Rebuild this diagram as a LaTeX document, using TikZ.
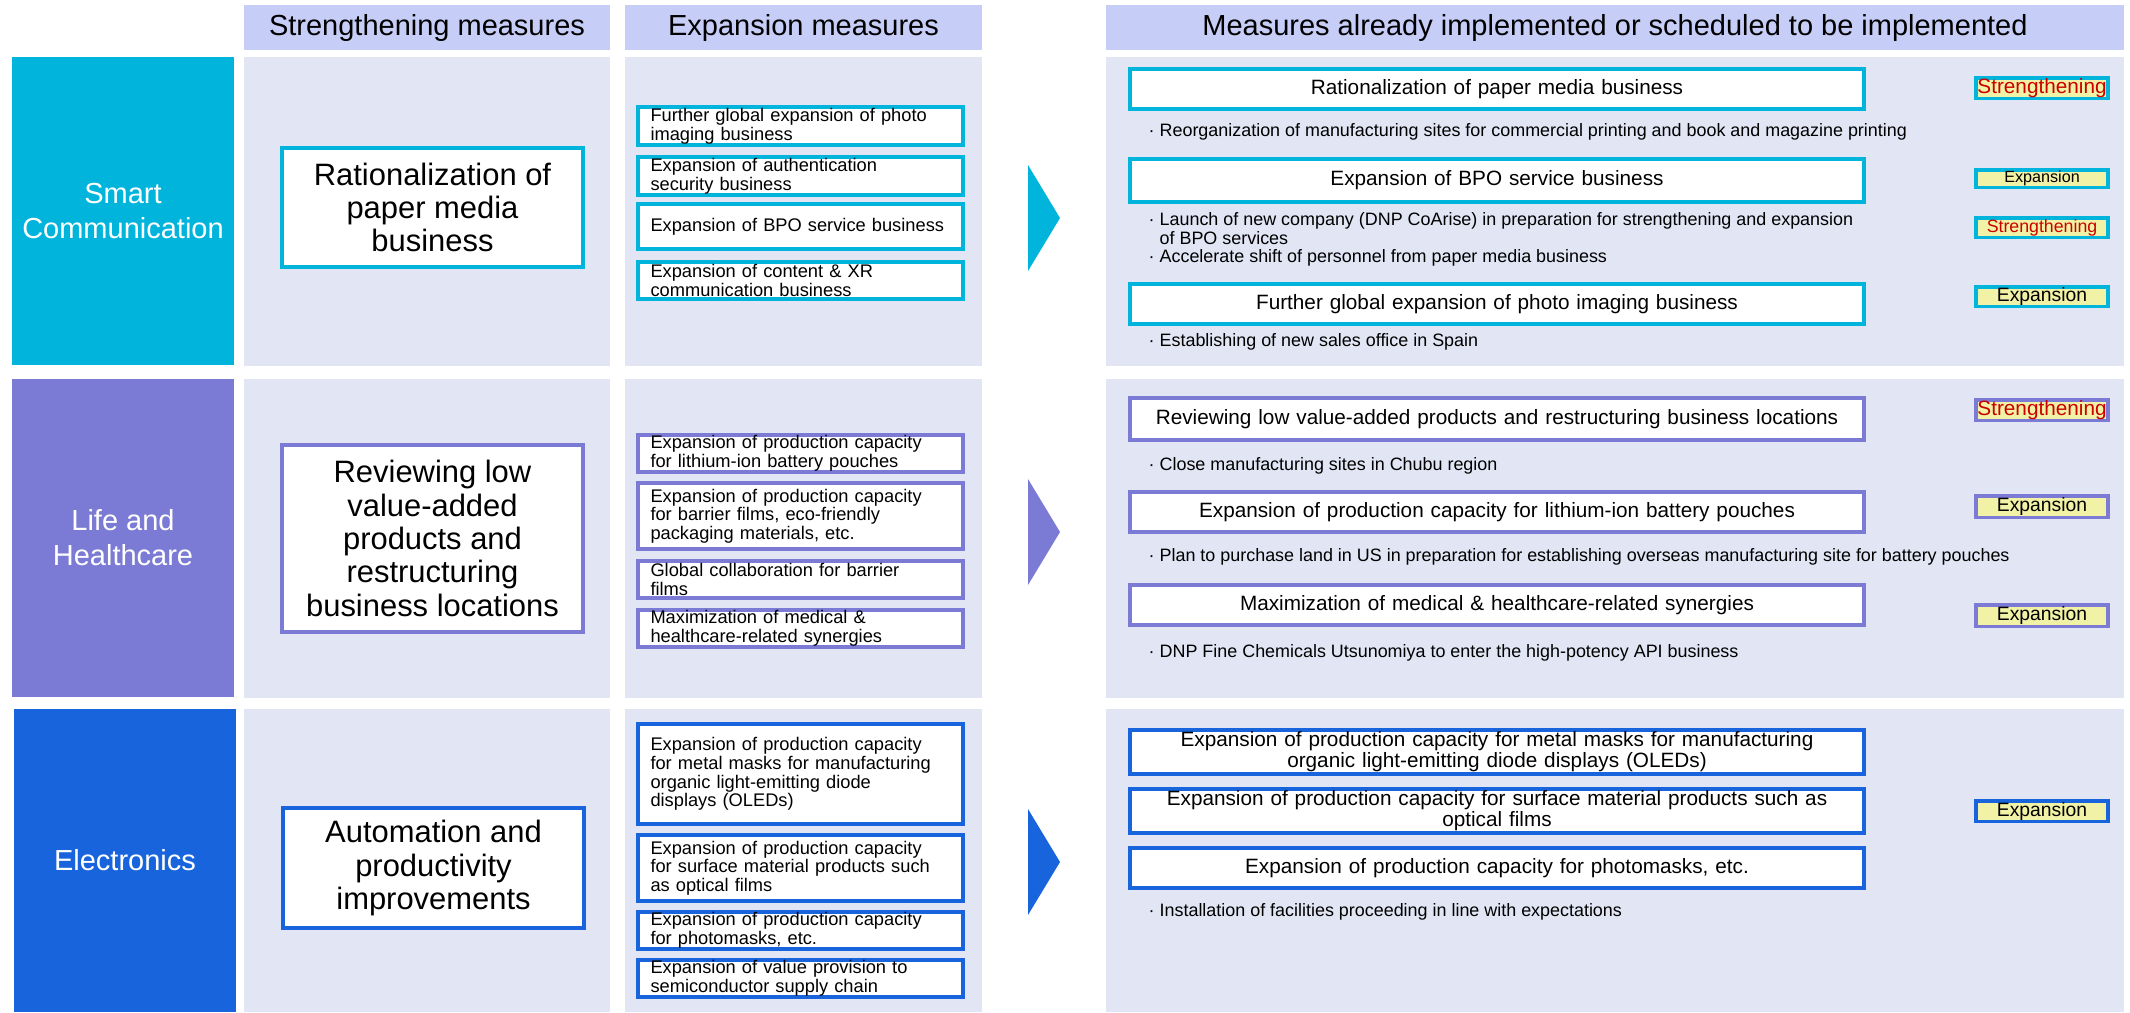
\documentclass[tikz,border=0pt]{standalone}
\usepackage{fontspec}
\setmainfont{Liberation Sans}
\usepackage{tikz}
\usetikzlibrary{positioning}
\definecolor{dnpSmart}{HTML}{00B4DC}
\definecolor{dnpLife}{HTML}{7B7BD6}
\definecolor{dnpElec}{HTML}{1764DC}
\definecolor{dnpHead}{HTML}{C6CDF7}
\definecolor{dnpPanel}{HTML}{E1E5F4}
\definecolor{dnpTag}{HTML}{F2F2A6}
\definecolor{dnpRed}{HTML}{CC0000}

\begin{document}
\begin{tikzpicture}[
  head/.style={fill=dnpHead,inner sep=0pt,minimum height=0.45cm,
               font=\fontsize{8.25}{10}\selectfont},
  side/.style={fill=#1,text=white,align=center,inner sep=0pt,minimum width=2.22cm,
               font=\fontsize{8.25}{10}\selectfont},
  keybox/.style={draw=#1,line width=0.04cm,fill=white,align=center,
                 minimum width=3.01cm,font=\fontsize{8.8}{9.5}\selectfont},
  expbox/.style={draw=#1,line width=0.04cm,fill=white,align=left,
                 text width=3.0cm,inner xsep=0.125cm,inner ysep=0pt,
                 font=\fontsize{5.2}{5.3}\selectfont},
  impbox/.style={draw=#1,line width=0.04cm,fill=white,align=center,
                 text width=7.1cm,minimum width=7.34cm,inner ysep=0pt,
                 font=\fontsize{5.9}{6}\selectfont},
  note/.style={anchor=west,align=left,inner sep=0pt,
               font=\fontsize{5.1}{5.3}\selectfont},
  tag/.style={draw=#1,line width=0.035cm,fill=dnpTag,inner sep=0pt,
              minimum width=1.32cm},
  strtag/.style={text=dnpRed}
]
\useasboundingbox (0,0) rectangle (21.30,-10.12);

% Column headers
\node[head,minimum width=3.66cm]  (hdStr) at (4.27,-0.275)  {Strengthening measures};
\node[head,minimum width=3.57cm]  (hdExp) at (8.035,-0.275) {Expansion measures};
\node[head,minimum width=10.18cm] (hdImp) at (16.15,-0.275) {Measures already implemented or scheduled to be implemented};

% Panels (background)
\foreach \ya/\yb in {0.57/3.66, 3.79/6.98, 7.09/10.12} {
  \fill[dnpPanel] (2.44,-\ya) rectangle (6.10,-\yb);
  \fill[dnpPanel] (6.25,-\ya) rectangle (9.82,-\yb);
  \fill[dnpPanel] (11.06,-\ya) rectangle (21.24,-\yb);
}

% Segment labels (left)
\node[side=dnpSmart,minimum height=3.08cm] (scLabel) at (1.23,-2.11)  {Smart\\Communication};
\node[side=dnpLife,minimum height=3.18cm]  (lhLabel) at (1.23,-5.38)  {Life and\\Healthcare};
\node[side=dnpElec,minimum height=3.03cm]  (elLabel) at (1.25,-8.605) {Electronics};

% Strengthening measures
\node[keybox=dnpSmart,minimum height=1.19cm] (scStr) at (4.325,-2.075) {Rationalization of\\paper media\\business};
\node[keybox=dnpLife,minimum height=1.87cm]  (lhStr) at (4.325,-5.385) {Reviewing low\\value-added\\products and\\restructuring\\business locations};
\node[keybox=dnpElec,minimum height=1.20cm]  (elStr) at (4.335,-8.68)  {Automation and\\productivity\\improvements};

% Expansion measures
\node[expbox=dnpSmart,minimum height=0.38cm] (scExp1) at (8.005,-1.26)  {Further global expansion of photo\\imaging business};
\node[expbox=dnpSmart,minimum height=0.38cm] (scExp2) at (8.005,-1.76)  {Expansion of authentication\\security business};
\node[expbox=dnpSmart,minimum height=0.45cm] (scExp3) at (8.005,-2.265) {Expansion of BPO service business};
\node[expbox=dnpSmart,minimum height=0.37cm] (scExp4) at (8.005,-2.805) {Expansion of content \& XR\\communication business};

\node[expbox=dnpLife,minimum height=0.37cm] (lhExp1) at (8.005,-4.535) {Expansion of production capacity\\for lithium-ion battery pouches};
\node[expbox=dnpLife,minimum height=0.66cm] (lhExp2) at (8.005,-5.16)  {Expansion of production capacity\\for barrier films, eco-friendly\\packaging materials, etc.};
\node[expbox=dnpLife,minimum height=0.37cm] (lhExp3) at (8.005,-5.795) {Global collaboration for barrier\\films};
\node[expbox=dnpLife,minimum height=0.37cm] (lhExp4) at (8.005,-6.285) {Maximization of medical \&\\healthcare-related synergies};

\node[expbox=dnpElec,minimum height=1.00cm] (elExp1) at (8.005,-7.74)  {Expansion of production capacity\\for metal masks for manufacturing\\organic light-emitting diode\\displays (OLEDs)};
\node[expbox=dnpElec,minimum height=0.66cm] (elExp2) at (8.005,-8.68)  {Expansion of production capacity\\for surface material products such\\as optical films};
\node[expbox=dnpElec,minimum height=0.37cm] (elExp3) at (8.005,-9.305) {Expansion of production capacity\\for photomasks, etc.};
\node[expbox=dnpElec,minimum height=0.37cm] (elExp4) at (8.005,-9.785) {Expansion of value provision to\\semiconductor supply chain};

% Chevrons
\foreach \c/\y in {dnpSmart/2.18, dnpLife/5.32, dnpElec/8.62}
  \fill[\c] (10.28,-\y+0.53) -- (10.60,-\y) -- (10.28,-\y-0.53) -- cycle;

% Implemented / scheduled: Smart Communication
\node[impbox=dnpSmart,minimum height=0.40cm] (scImp1) at (14.97,-0.89)  {Rationalization of paper media business};
\node[note] (scNote1) at (11.48,-1.32) {· Reorganization of manufacturing sites for commercial printing and book and magazine printing};
\node[impbox=dnpSmart,minimum height=0.43cm] (scImp2) at (14.97,-1.805) {Expansion of BPO service business};
\node[note] (scNote2) at (11.48,-2.395) {· Launch of new company (DNP CoArise) in preparation for strengthening and expansion\\\phantom{·\ }of BPO services\\· Accelerate shift of personnel from paper media business};
\node[impbox=dnpSmart,minimum height=0.40cm] (scImp3) at (14.97,-3.04)  {Further global expansion of photo imaging business};
\node[note] (scNote3) at (11.48,-3.42) {· Establishing of new sales office in Spain};

% Implemented / scheduled: Life and Healthcare
\node[impbox=dnpLife,minimum height=0.42cm] (lhImp1) at (14.97,-4.19) {Reviewing low value-added products and restructuring business locations};
\node[note] (lhNote1) at (11.48,-4.66) {· Close manufacturing sites in Chubu region};
\node[impbox=dnpLife,minimum height=0.40cm] (lhImp2) at (14.97,-5.12) {Expansion of production capacity for lithium-ion battery pouches};
\node[note] (lhNote2) at (11.48,-5.57) {· Plan to purchase land in US in preparation for establishing overseas manufacturing site for battery pouches};
\node[impbox=dnpLife,minimum height=0.40cm] (lhImp3) at (14.97,-6.05) {Maximization of medical \& healthcare-related synergies};
\node[note] (lhNote3) at (11.48,-6.53) {· DNP Fine Chemicals Utsunomiya to enter the high-potency API business};

% Implemented / scheduled: Electronics
\node[impbox=dnpElec,minimum height=0.44cm] (elImp1) at (14.97,-7.52) {Expansion of production capacity for metal masks for manufacturing\\organic light-emitting diode displays (OLEDs)};
\node[impbox=dnpElec,minimum height=0.44cm] (elImp2) at (14.97,-8.11) {Expansion of production capacity for surface material products such as\\optical films};
\node[impbox=dnpElec,minimum height=0.40cm] (elImp3) at (14.97,-8.68) {Expansion of production capacity for photomasks, etc.};
\node[note] (elNote1) at (11.48,-9.12) {· Installation of facilities proceeding in line with expectations};

% Tags
\node[tag=dnpSmart,strtag,minimum height=0.205cm,font=\fontsize{5.9}{6}\selectfont]  (scTag1) at (20.42,-0.88)  {Strengthening};
\node[tag=dnpSmart,minimum height=0.175cm,font=\fontsize{4.6}{5}\selectfont]         (scTag2) at (20.42,-1.785) {Expansion};
\node[tag=dnpSmart,strtag,minimum height=0.195cm,font=\fontsize{5.05}{5.5}\selectfont] (scTag3) at (20.42,-2.275) {Strengthening};
\node[tag=dnpSmart,minimum height=0.195cm,font=\fontsize{5.5}{6}\selectfont]         (scTag4) at (20.42,-2.965) {Expansion};
\node[tag=dnpLife,strtag,minimum height=0.205cm,font=\fontsize{5.9}{6}\selectfont]   (lhTag1) at (20.42,-4.10)  {Strengthening};
\node[tag=dnpLife,minimum height=0.215cm,font=\fontsize{5.5}{6}\selectfont]          (lhTag2) at (20.42,-5.065) {Expansion};
\node[tag=dnpLife,minimum height=0.215cm,font=\fontsize{5.5}{6}\selectfont]          (lhTag3) at (20.42,-6.155) {Expansion};
\node[tag=dnpElec,minimum height=0.205cm,font=\fontsize{5.5}{6}\selectfont]          (elTag1) at (20.42,-8.11)  {Expansion};
\end{tikzpicture}
\end{document}
